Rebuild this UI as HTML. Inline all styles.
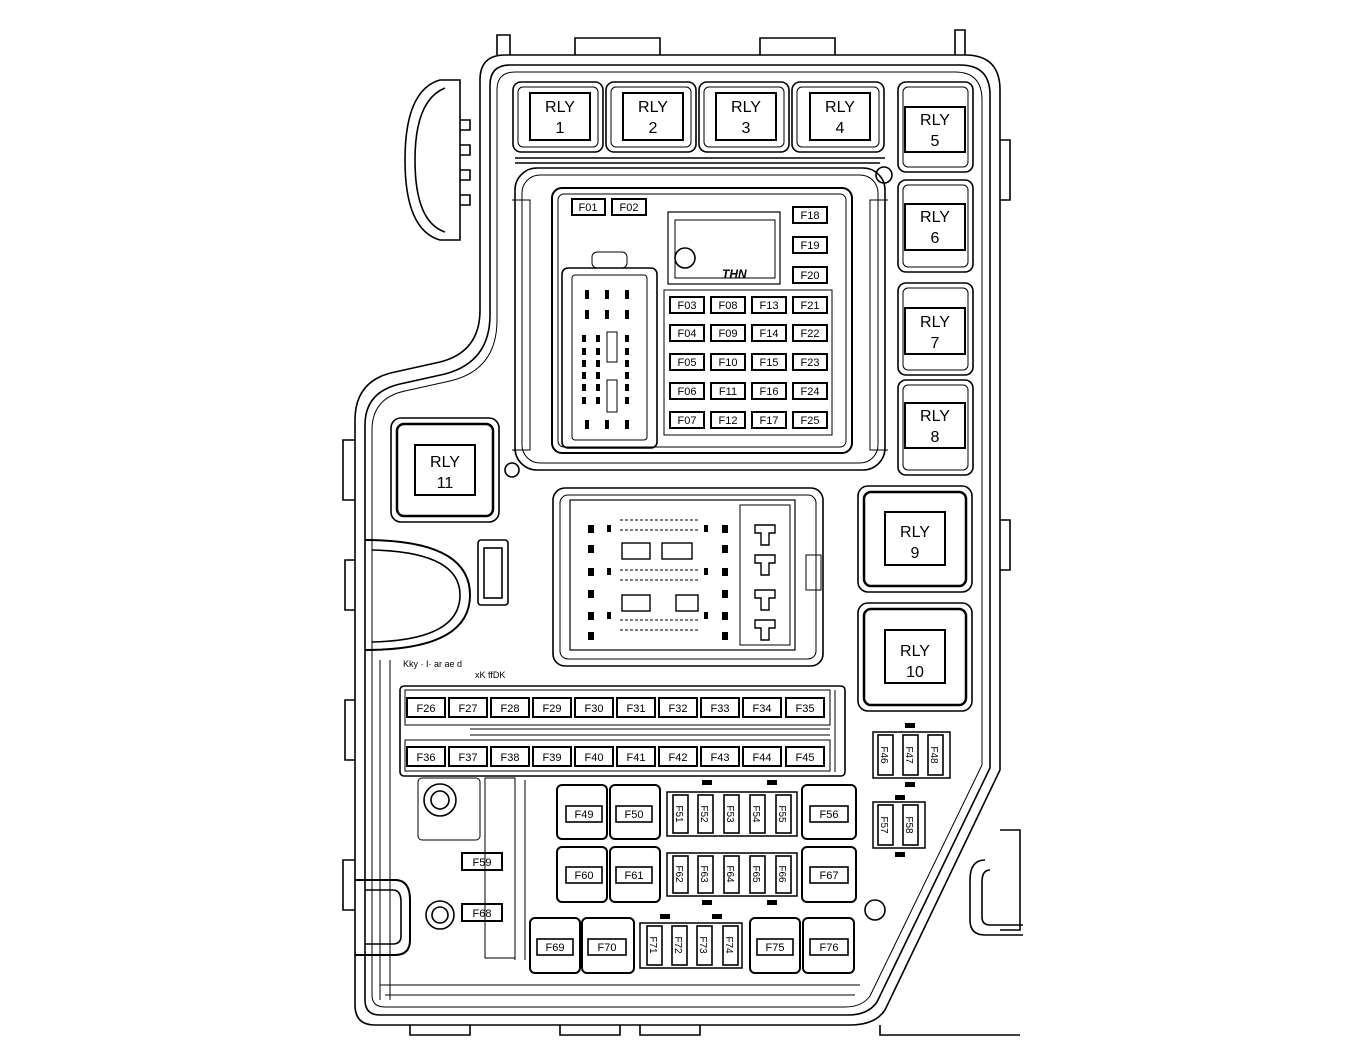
<!DOCTYPE html>
<html><head><meta charset="utf-8"><style>
html,body{margin:0;padding:0;background:#fff;}
svg{display:block;}
svg text{font-family:"Liberation Sans",sans-serif;fill:#000;stroke:none;}
.r{font-size:16px;text-anchor:middle;}
</style></head><body>
<svg width="1370" height="1063" viewBox="0 0 1370 1063" xmlns="http://www.w3.org/2000/svg" fill="none" stroke="#000" stroke-width="1.6">
<!-- outer housing -->
<path d="M480,80 Q480,55 505,55 L965,55 Q1000,55 1000,90 L1000,770 L885,1010 Q875,1025 850,1025 L375,1025 Q355,1025 355,1005 L355,420 Q355,380 395,372 L440,362 Q480,352 480,310 Z"/>
<path d="M490,85 Q490,65 510,65 L960,65 Q990,65 990,95 L990,768 L877,1002 Q868,1015 848,1015 L380,1015 Q365,1015 365,1000 L365,425 Q365,392 400,384 L445,374 Q490,362 490,315 Z"/>
<path d="M497,90 Q497,72 515,72 L955,72 Q982,72 982,100 L982,765 L870,996 Q862,1007 845,1007 L385,1007 Q372,1007 372,995 L372,430 Q372,398 405,391 L450,381 Q497,370 497,320 Z" stroke-width="1"/>
<!-- top stubs -->
<path d="M497,55 V35 H510 V55 M575,55 V38 H660 V55 M760,55 V38 H835 V55 M955,55 V30 H965 V55"/>
<path d="M410,1025 V1035 H470 V1025 M560,1025 V1035 H620 V1025 M640,1025 V1035 H700 V1025 M880,1025 V1035 H1020"/>
<!-- left tab -->
<path d="M440,80 Q405,90 405,160 Q405,230 440,240 L460,240 L460,80 Z"/>
<path d="M445,88 Q415,100 415,160 Q415,222 445,232"/>
<path d="M460,120 h10 v10 h-10 M460,145 h10 v10 h-10 M460,170 h10 v10 h-10 M460,195 h10 v10 h-10"/>
<!-- right side features -->
<path d="M1000,140 h10 v60 h-10 M1000,520 h10 v50 h-10 M1000,830 h20 v100 h-20"/>
<path d="M985,860 q-15,0 -15,20 v40 q0,15 15,15 h38 M990,870 q-8,0 -8,12 v35 q0,8 8,8 h33"/>
<!-- left side features -->
<path d="M355,440 h-12 v60 h12 M355,560 h-10 v50 h10 M355,700 h-10 v60 h10 M355,860 h-12 v50 h12"/>
<!-- notch -->
<path d="M365,540 Q470,540 470,595 Q470,650 365,650" stroke-width="2"/>
<path d="M372,550 Q460,552 460,595 Q460,640 372,642"/>
<!-- small connector left -->
<rect x="478" y="540" width="30" height="65" rx="3"/><rect x="484" y="548" width="18" height="50"/>
<!-- lower-left notch -->
<path d="M355,880 h40 q15,0 15,20 v40 q0,15 -15,15 h-40" stroke-width="2"/>
<path d="M365,890 h28 q8,0 8,12 v34 q0,8 -8,8 h-28"/>

<!-- top relays -->
<g>
<rect x="513" y="82" width="90" height="70" rx="8"/><rect x="518" y="87" width="80" height="60" rx="5" stroke-width="1"/><rect x="530" y="93" width="60" height="47" stroke-width="2"/>
<rect x="606" y="82" width="90" height="70" rx="8"/><rect x="611" y="87" width="80" height="60" rx="5" stroke-width="1"/><rect x="623" y="93" width="60" height="47" stroke-width="2"/>
<rect x="699" y="82" width="90" height="70" rx="8"/><rect x="704" y="87" width="80" height="60" rx="5" stroke-width="1"/><rect x="716" y="93" width="60" height="47" stroke-width="2"/>
<rect x="792" y="82" width="92" height="70" rx="8"/><rect x="797" y="87" width="82" height="60" rx="5" stroke-width="1"/><rect x="810" y="93" width="60" height="47" stroke-width="2"/>
<path d="M515,158 H885 M515,163 H880"/>
</g>
<text class="r" x="560" y="112">RLY</text><text class="r" x="560" y="133">1</text>
<text class="r" x="653" y="112">RLY</text><text class="r" x="653" y="133">2</text>
<text class="r" x="746" y="112">RLY</text><text class="r" x="746" y="133">3</text>
<text class="r" x="840" y="112">RLY</text><text class="r" x="840" y="133">4</text>
<!-- right relays -->
<g>
<rect x="898" y="82" width="75" height="90" rx="8"/><rect x="903" y="87" width="65" height="80" rx="5" stroke-width="1"/><rect x="905" y="107" width="60" height="45" stroke-width="2"/>
<rect x="898" y="180" width="75" height="92" rx="8"/><rect x="903" y="185" width="65" height="82" rx="5" stroke-width="1"/><rect x="905" y="204" width="60" height="46" stroke-width="2"/>
<rect x="898" y="283" width="75" height="92" rx="8"/><rect x="903" y="288" width="65" height="82" rx="5" stroke-width="1"/><rect x="905" y="308" width="60" height="46" stroke-width="2"/>
<rect x="898" y="380" width="75" height="95" rx="8"/><rect x="903" y="385" width="65" height="85" rx="5" stroke-width="1"/><rect x="905" y="403" width="60" height="45" stroke-width="2"/>
</g>
<text class="r" x="935" y="125">RLY</text><text class="r" x="935" y="146">5</text>
<text class="r" x="935" y="222">RLY</text><text class="r" x="935" y="243">6</text>
<text class="r" x="935" y="327">RLY</text><text class="r" x="935" y="348">7</text>
<text class="r" x="935" y="421">RLY</text><text class="r" x="935" y="442">8</text>
<!-- RLY 9,10,11 -->
<g>
<rect x="858" y="486" width="114" height="106" rx="10"/><rect x="864" y="492" width="102" height="94" rx="7" stroke-width="2.5"/><rect x="885" y="512" width="60" height="53" stroke-width="2"/>
<rect x="858" y="603" width="114" height="108" rx="10"/><rect x="864" y="609" width="102" height="96" rx="7" stroke-width="2.5"/><rect x="885" y="630" width="60" height="53" stroke-width="2"/>
<rect x="391" y="418" width="108" height="104" rx="10"/><rect x="397" y="424" width="96" height="92" rx="7" stroke-width="2.5"/><rect x="415" y="445" width="60" height="50" stroke-width="2"/>
</g>
<text class="r" x="915" y="537">RLY</text><text class="r" x="915" y="558">9</text>
<text class="r" x="915" y="656">RLY</text><text class="r" x="915" y="677">10</text>
<text class="r" x="445" y="467">RLY</text><text class="r" x="445" y="488">11</text>
<circle cx="512" cy="470" r="7"/><circle cx="884" cy="175" r="8"/><circle cx="875" cy="910" r="10"/>

<!-- upper fuse block -->
<rect x="515" y="168" width="370" height="302" rx="22"/>
<rect x="522" y="175" width="356" height="288" rx="18" stroke-width="1"/>
<rect x="552" y="188" width="300" height="265" rx="10" stroke-width="2"/>
<rect x="558" y="194" width="288" height="253" rx="6" stroke-width="1"/>
<path d="M512,200 h18 v250 h-18 M888,200 h-18 v250 h18" stroke-width="1"/>
<rect x="668" y="212" width="112" height="72" stroke-width="1.2"/>
<rect x="675" y="220" width="100" height="58" stroke-width="1"/>
<circle cx="685" cy="258" r="10"/>
<text x="722" y="278" style="font-size:12px;font-style:italic;font-weight:bold">THN</text>
<!-- connector inside upper -->
<rect x="562" y="268" width="95" height="180" rx="6"/>
<rect x="572" y="275" width="75" height="165" rx="3" stroke-width="1"/>
<rect x="592" y="252" width="35" height="16" rx="5" stroke-width="1"/>
<g fill="#000" stroke="none">
<rect x="585" y="290" width="4" height="9"/><rect x="605" y="290" width="4" height="9"/><rect x="625" y="290" width="4" height="9"/>
<rect x="585" y="310" width="4" height="9"/><rect x="605" y="310" width="4" height="9"/><rect x="625" y="310" width="4" height="9"/>
<rect x="582" y="335" width="4" height="7"/><rect x="596" y="335" width="4" height="7"/><rect x="625" y="335" width="4" height="7"/>
<rect x="582" y="348" width="4" height="7"/><rect x="596" y="348" width="4" height="7"/><rect x="625" y="348" width="4" height="7"/>
<rect x="582" y="360" width="4" height="7"/><rect x="596" y="360" width="4" height="7"/><rect x="625" y="360" width="4" height="7"/>
<rect x="582" y="372" width="4" height="7"/><rect x="596" y="372" width="4" height="7"/><rect x="625" y="372" width="4" height="7"/>
<rect x="582" y="384" width="4" height="7"/><rect x="596" y="384" width="4" height="7"/><rect x="625" y="384" width="4" height="7"/>
<rect x="582" y="397" width="4" height="7"/><rect x="596" y="397" width="4" height="7"/><rect x="625" y="397" width="4" height="7"/>
<rect x="585" y="420" width="4" height="9"/><rect x="605" y="420" width="4" height="9"/><rect x="625" y="420" width="4" height="9"/>
</g>
<rect x="607" y="332" width="10" height="30" stroke-width="1"/><rect x="607" y="380" width="10" height="32" stroke-width="1"/>
<rect x="664" y="290" width="168" height="145" stroke-width="1"/>
<g stroke-width="2">
<rect x="572" y="199" width="33" height="16"/><rect x="612" y="199" width="34" height="16"/>
<rect x="793" y="207" width="34" height="16"/><rect x="793" y="237" width="34" height="16"/><rect x="793" y="267" width="34" height="16"/>
<rect x="670" y="297" width="34" height="16"/><rect x="711" y="297" width="34" height="16"/><rect x="752" y="297" width="34" height="16"/><rect x="793" y="297" width="34" height="16"/>
<rect x="670" y="325" width="34" height="16"/><rect x="711" y="325" width="34" height="16"/><rect x="752" y="325" width="34" height="16"/><rect x="793" y="325" width="34" height="16"/>
<rect x="670" y="354" width="34" height="16"/><rect x="711" y="354" width="34" height="16"/><rect x="752" y="354" width="34" height="16"/><rect x="793" y="354" width="34" height="16"/>
<rect x="670" y="383" width="34" height="16"/><rect x="711" y="383" width="34" height="16"/><rect x="752" y="383" width="34" height="16"/><rect x="793" y="383" width="34" height="16"/>
<rect x="670" y="412" width="34" height="16"/><rect x="711" y="412" width="34" height="16"/><rect x="752" y="412" width="34" height="16"/><rect x="793" y="412" width="34" height="16"/>
</g>
<g style="font-size:11px;text-anchor:middle">
<text x="588" y="211">F01</text><text x="629" y="211">F02</text>
<text x="810" y="219">F18</text><text x="810" y="249">F19</text><text x="810" y="279">F20</text>
<text x="687" y="309">F03</text><text x="728" y="309">F08</text><text x="769" y="309">F13</text><text x="810" y="309">F21</text>
<text x="687" y="337">F04</text><text x="728" y="337">F09</text><text x="769" y="337">F14</text><text x="810" y="337">F22</text>
<text x="687" y="366">F05</text><text x="728" y="366">F10</text><text x="769" y="366">F15</text><text x="810" y="366">F23</text>
<text x="687" y="395">F06</text><text x="728" y="395">F11</text><text x="769" y="395">F16</text><text x="810" y="395">F24</text>
<text x="687" y="424">F07</text><text x="728" y="424">F12</text><text x="769" y="424">F17</text><text x="810" y="424">F25</text>
</g>

<!-- middle connector block -->
<rect x="553" y="488" width="270" height="178" rx="12"/>
<rect x="560" y="495" width="256" height="164" rx="8" stroke-width="1"/>
<rect x="570" y="500" width="225" height="150" stroke-width="1.2"/>
<rect x="740" y="505" width="50" height="140" stroke-width="1"/>
<rect x="806" y="555" width="15" height="35" stroke-width="1"/>
<g stroke-width="1.4">
<path d="M755,525 h20 v8 h-6 v12 h-8 v-12 h-6z M755,555 h20 v8 h-6 v12 h-8 v-12 h-6z M755,590 h20 v8 h-6 v12 h-8 v-12 h-6z M755,620 h20 v8 h-6 v12 h-8 v-12 h-6z"/>
<rect x="622" y="543" width="28" height="16"/><rect x="662" y="543" width="30" height="16"/>
<rect x="622" y="595" width="28" height="16"/><rect x="676" y="595" width="22" height="16"/>
</g>
<g fill="#000" stroke="none">
<rect x="588" y="525" width="6" height="8"/><rect x="588" y="545" width="6" height="8"/><rect x="588" y="568" width="6" height="8"/><rect x="588" y="590" width="6" height="8"/><rect x="588" y="612" width="6" height="8"/><rect x="588" y="632" width="6" height="8"/>
<rect x="722" y="525" width="6" height="8"/><rect x="722" y="545" width="6" height="8"/><rect x="722" y="568" width="6" height="8"/><rect x="722" y="590" width="6" height="8"/><rect x="722" y="612" width="6" height="8"/><rect x="722" y="632" width="6" height="8"/>
<rect x="607" y="525" width="4" height="7"/><rect x="607" y="568" width="4" height="7"/><rect x="607" y="612" width="4" height="7"/>
<rect x="704" y="525" width="4" height="7"/><rect x="704" y="568" width="4" height="7"/><rect x="704" y="612" width="4" height="7"/>
</g>
<g stroke-width="1" stroke-dasharray="3 2">
<path d="M620,520 h80 M620,530 h80 M620,570 h80 M620,580 h80 M620,620 h80 M620,630 h80"/>
</g>
<text x="403" y="667" style="font-size:9px">Kky · I· ar ae d</text>
<text x="475" y="678" style="font-size:9px">xK  ffDK</text>

<!-- long fuse rows -->
<rect x="400" y="686" width="445" height="90" rx="4"/>
<rect x="405" y="690" width="425" height="35" stroke-width="1"/>
<rect x="405" y="740" width="425" height="31" stroke-width="1"/>
<path d="M470,729 H830 M470,735 H830 M835,690 V772" stroke-width="1"/>
<g stroke-width="2">
<rect x="407" y="698" width="38" height="19"/><rect x="449" y="698" width="38" height="19"/><rect x="491" y="698" width="38" height="19"/><rect x="533" y="698" width="38" height="19"/><rect x="575" y="698" width="38" height="19"/><rect x="617" y="698" width="38" height="19"/><rect x="659" y="698" width="38" height="19"/><rect x="701" y="698" width="38" height="19"/><rect x="743" y="698" width="38" height="19"/><rect x="786" y="698" width="38" height="19"/>
<rect x="407" y="747" width="38" height="19"/><rect x="449" y="747" width="38" height="19"/><rect x="491" y="747" width="38" height="19"/><rect x="533" y="747" width="38" height="19"/><rect x="575" y="747" width="38" height="19"/><rect x="617" y="747" width="38" height="19"/><rect x="659" y="747" width="38" height="19"/><rect x="701" y="747" width="38" height="19"/><rect x="743" y="747" width="38" height="19"/><rect x="786" y="747" width="38" height="19"/>
</g>
<g style="font-size:11px;text-anchor:middle">
<text x="426" y="712">F26</text><text x="468" y="712">F27</text><text x="510" y="712">F28</text><text x="552" y="712">F29</text><text x="594" y="712">F30</text><text x="636" y="712">F31</text><text x="678" y="712">F32</text><text x="720" y="712">F33</text><text x="762" y="712">F34</text><text x="805" y="712">F35</text>
<text x="426" y="761">F36</text><text x="468" y="761">F37</text><text x="510" y="761">F38</text><text x="552" y="761">F39</text><text x="594" y="761">F40</text><text x="636" y="761">F41</text><text x="678" y="761">F42</text><text x="720" y="761">F43</text><text x="762" y="761">F44</text><text x="805" y="761">F45</text>
</g>

<!-- lower left area -->
<path d="M380,660 V1000 M390,660 V1000" stroke-width="1"/>
<rect x="418" y="778" width="62" height="62" rx="4" stroke-width="1"/>
<circle cx="440" cy="800" r="16"/><circle cx="440" cy="800" r="9"/>
<circle cx="440" cy="915" r="14"/><circle cx="440" cy="915" r="8"/>
<rect x="485" y="778" width="30" height="180" stroke-width="1"/>
<path d="M515,780 V960 M525,780 V960" stroke-width="1"/>
<rect x="462" y="853" width="40" height="17" stroke-width="2"/><text x="482" y="866" style="font-size:11px;text-anchor:middle">F59</text>
<rect x="462" y="904" width="40" height="17" stroke-width="2"/><text x="482" y="917" style="font-size:11px;text-anchor:middle">F68</text>

<!-- lower square fuses -->
<g>
<rect x="557" y="785" width="50" height="54" rx="5" stroke-width="2"/><rect x="566" y="806" width="36" height="16"/>
<rect x="610" y="785" width="50" height="54" rx="5" stroke-width="2"/><rect x="616" y="806" width="36" height="16"/>
<rect x="802" y="785" width="54" height="54" rx="5" stroke-width="2"/><rect x="810" y="806" width="38" height="16"/>
<rect x="557" y="847" width="50" height="55" rx="5" stroke-width="2"/><rect x="566" y="867" width="36" height="16"/>
<rect x="610" y="847" width="50" height="55" rx="5" stroke-width="2"/><rect x="616" y="867" width="36" height="16"/>
<rect x="802" y="847" width="54" height="55" rx="5" stroke-width="2"/><rect x="810" y="867" width="38" height="16"/>
<rect x="530" y="918" width="50" height="55" rx="5" stroke-width="2"/><rect x="537" y="939" width="36" height="16"/>
<rect x="582" y="918" width="52" height="55" rx="5" stroke-width="2"/><rect x="588" y="939" width="38" height="16"/>
<rect x="750" y="918" width="50" height="55" rx="5" stroke-width="2"/><rect x="757" y="939" width="36" height="16"/>
<rect x="803" y="918" width="51" height="55" rx="5" stroke-width="2"/><rect x="810" y="939" width="38" height="16"/>
</g>
<g style="font-size:11px;text-anchor:middle">
<text x="584" y="818">F49</text><text x="634" y="818">F50</text><text x="829" y="818">F56</text>
<text x="584" y="879">F60</text><text x="634" y="879">F61</text><text x="829" y="879">F67</text>
<text x="555" y="951">F69</text><text x="607" y="951">F70</text><text x="775" y="951">F75</text><text x="829" y="951">F76</text>
</g>
<!-- mini vertical fuse groups -->
<rect x="667" y="792" width="130" height="44" stroke-width="1.5"/>
<rect x="667" y="853" width="130" height="43" stroke-width="1.5"/>
<rect x="640" y="923" width="102" height="45" stroke-width="1.5"/>
<rect x="873" y="732" width="77" height="46" stroke-width="1.5"/>
<rect x="873" y="802" width="52" height="46" stroke-width="1.5"/>
<g stroke-width="1.6">
<rect x="673" y="795" width="15" height="38"/><rect x="698" y="795" width="15" height="38"/><rect x="724" y="795" width="15" height="38"/><rect x="750" y="795" width="15" height="38"/><rect x="776" y="795" width="15" height="38"/>
<rect x="673" y="856" width="15" height="37"/><rect x="698" y="856" width="15" height="37"/><rect x="724" y="856" width="15" height="37"/><rect x="750" y="856" width="15" height="37"/><rect x="776" y="856" width="15" height="37"/>
<rect x="647" y="926" width="15" height="39"/><rect x="672" y="926" width="15" height="39"/><rect x="697" y="926" width="15" height="39"/><rect x="723" y="926" width="15" height="39"/>
<rect x="878" y="735" width="15" height="40"/><rect x="903" y="735" width="15" height="40"/><rect x="928" y="735" width="15" height="40"/>
<rect x="878" y="805" width="15" height="40"/><rect x="903" y="805" width="15" height="40"/>
</g>
<g style="font-size:10px;text-anchor:middle">
<text transform="translate(680,814) rotate(90)" y="4">F51</text><text transform="translate(705,814) rotate(90)" y="4">F52</text><text transform="translate(731,814) rotate(90)" y="4">F53</text><text transform="translate(757,814) rotate(90)" y="4">F54</text><text transform="translate(783,814) rotate(90)" y="4">F55</text>
<text transform="translate(680,874) rotate(90)" y="4">F62</text><text transform="translate(705,874) rotate(90)" y="4">F63</text><text transform="translate(731,874) rotate(90)" y="4">F64</text><text transform="translate(757,874) rotate(90)" y="4">F65</text><text transform="translate(783,874) rotate(90)" y="4">F66</text>
<text transform="translate(654,945) rotate(90)" y="4">F71</text><text transform="translate(679,945) rotate(90)" y="4">F72</text><text transform="translate(704,945) rotate(90)" y="4">F73</text><text transform="translate(730,945) rotate(90)" y="4">F74</text>
<text transform="translate(885,755) rotate(90)" y="4">F46</text><text transform="translate(910,755) rotate(90)" y="4">F47</text><text transform="translate(935,755) rotate(90)" y="4">F48</text>
<text transform="translate(885,825) rotate(90)" y="4">F57</text><text transform="translate(910,825) rotate(90)" y="4">F58</text>
</g>
<g fill="#000" stroke="none">
<rect x="905" y="723" width="10" height="5"/><rect x="905" y="782" width="10" height="5"/><rect x="895" y="795" width="10" height="5"/><rect x="895" y="852" width="10" height="5"/>
<rect x="702" y="780" width="10" height="5"/><rect x="767" y="780" width="10" height="5"/><rect x="702" y="900" width="10" height="5"/><rect x="767" y="900" width="10" height="5"/>
<rect x="660" y="914" width="10" height="5"/><rect x="712" y="914" width="10" height="5"/>
</g>
<path d="M380,985 H860 M385,995 H855" stroke-width="1"/>
</svg>
</body></html>
